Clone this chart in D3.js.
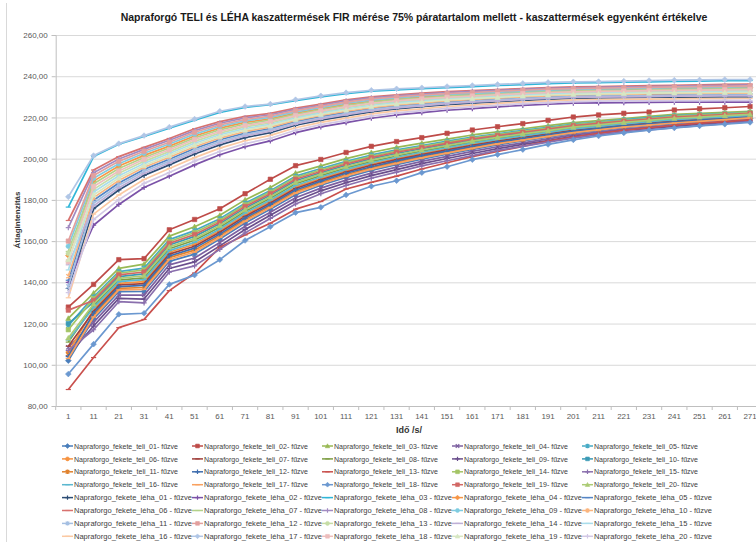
<!DOCTYPE html>
<html>
<head>
<meta charset="utf-8">
<script src="https://cdn.jsdelivr.net/npm/d3@7"></script>
<style>
  body { margin: 0; background: #fff; }
  svg { display: block; }
  text { font-family: "Liberation Sans", Arial, sans-serif; }
</style>
</head>
<body>
<div id="chart"></div>
<script>
// time points (x categories)
const times = [1, 11, 21, 31, 41, 51, 61, 71, 81, 91, 101, 111, 121, 131, 141, 151, 161, 171, 181, 191, 201, 211, 221, 231, 241, 251, 261, 271];
const yTicks = [80, 100, 120, 140, 160, 180, 200, 220, 240, 260];
const ids = ['01', '02', '03', '04', '05', '06', '07', '08', '09', '10', '11', '12', '13', '14', '15', '16', '17', '18', '19', '20'];

// teli series, 01..20
const teli = [
  [102, 122.3, 135.5, 135.6, 150.2, 153.7, 161.0, 168.8, 175.5, 182.5, 187.1, 190.9, 194.3, 197.1, 199.8, 202.2, 204.5, 206.7, 208.6, 210.4, 212.3, 213.6, 215.0, 216.0, 217.0, 217.8, 218.7, 219.5],
  [128, 139, 151, 151.5, 165.5, 170.5, 175.7, 183, 190, 196.6, 199.6, 203, 206, 208.3, 210.2, 212.3, 213.9, 215.5, 217, 218.6, 220.2, 221.2, 222, 222.6, 223.6, 224.2, 224.7, 225.3],
  [122.5, 134.8, 146.8, 148.8, 162.4, 167, 172.5, 180, 186, 193, 196.5, 200, 203, 205.5, 207.5, 209.5, 211.5, 213, 214.5, 216, 217.5, 218.5, 219.5, 220.5, 221.5, 222, 222.5, 223],
  [108.5, 120.6, 133.8, 133.8, 148.5, 151.8, 159.3, 167.2, 174.0, 181.0, 185.7, 189.6, 193.0, 195.9, 198.7, 201.1, 203.5, 205.8, 207.7, 209.6, 211.5, 212.9, 214.3, 215.3, 216.3, 217.2, 218.1, 219.0],
  [119, 133.0, 145.2, 146.9, 160.7, 165.1, 170.9, 178.4, 184.5, 191.5, 195.2, 198.7, 201.8, 204.3, 206.4, 208.5, 210.5, 212.1, 213.7, 215.2, 216.8, 217.8, 218.9, 219.9, 220.9, 221.4, 222.0, 222.5],
  [106, 126.8, 139.5, 140.3, 154.6, 158.5, 165.1, 172.8, 179.3, 186.3, 190.4, 194.2, 197.4, 200.1, 202.6, 204.8, 207.0, 209.0, 210.7, 212.4, 214.1, 215.4, 216.6, 217.6, 218.6, 219.3, 220.0, 220.8],
  [109, 125.9, 138.7, 139.4, 153.7, 157.5, 164.3, 172.0, 178.5, 185.5, 189.8, 193.5, 196.8, 199.5, 202.0, 204.3, 206.5, 208.5, 210.3, 212.0, 213.8, 215.0, 216.3, 217.3, 218.3, 219.0, 219.8, 220.5],
  [111, 128.6, 141.1, 142.2, 156.3, 160.4, 166.7, 174.4, 180.8, 187.8, 191.8, 195.5, 198.6, 201.3, 203.7, 205.8, 208.0, 209.9, 211.5, 213.2, 214.9, 216.1, 217.2, 218.2, 219.2, 219.9, 220.6, 221.3],
  [104.5, 118.8, 132.2, 131.9, 146.7, 149.9, 157.7, 165.6, 172.5, 179.5, 184.4, 188.3, 191.8, 194.7, 197.6, 200.1, 202.5, 204.9, 206.9, 208.8, 210.8, 212.2, 213.7, 214.7, 215.7, 216.6, 217.6, 218.5],
  [120, 130.4, 142.8, 144.1, 158.1, 162.3, 168.4, 176.0, 182.3, 189.3, 193.1, 196.8, 199.9, 202.5, 204.8, 206.9, 209.0, 210.8, 212.4, 214.0, 215.6, 216.8, 217.9, 218.9, 219.9, 220.5, 221.1, 221.8],
  [105, 124.1, 137.1, 137.5, 152.0, 155.6, 162.6, 170.4, 177.0, 184.0, 188.4, 192.2, 195.5, 198.3, 200.9, 203.2, 205.5, 207.6, 209.4, 211.2, 213.0, 214.3, 215.6, 216.6, 217.6, 218.4, 219.2, 220.0],
  [104, 125.0, 137.9, 138.5, 152.8, 156.6, 163.4, 171.2, 177.8, 184.8, 189.1, 192.9, 196.1, 198.9, 201.5, 203.7, 206.0, 208.1, 209.8, 211.6, 213.4, 214.7, 215.9, 216.9, 217.9, 218.7, 219.5, 220.3],
  [88, 103.5, 118, 122, 136, 144.5, 157, 163, 168.7, 175.5, 179.2, 185.3, 188.5, 191.5, 195, 198, 201, 203.5, 206, 208.5, 210.5, 212.3, 213.8, 215, 216.2, 217.2, 218, 218.8],
  [117, 132.1, 144.4, 146.0, 159.8, 164.2, 170.0, 177.6, 183.8, 190.8, 194.5, 198.1, 201.1, 203.7, 205.9, 207.9, 210.0, 211.7, 213.2, 214.8, 216.4, 217.5, 218.5, 219.5, 220.5, 221.1, 221.7, 222.3],
  [107, 117, 130.6, 130, 145, 148, 156, 164, 171, 178, 183, 187, 190.5, 193.5, 196.5, 199, 201.5, 204, 206, 208, 210, 211.5, 213, 214, 215, 216, 217, 218],
  [112, 127.7, 140.3, 141.3, 155.4, 159.4, 165.9, 173.6, 180.0, 187.0, 191.1, 194.8, 198.0, 200.7, 203.1, 205.3, 207.5, 209.4, 211.1, 212.8, 214.5, 215.7, 216.9, 217.9, 218.9, 219.6, 220.3, 221.0],
  [103, 123.2, 136.3, 136.6, 151.1, 154.7, 161.8, 169.6, 176.3, 183.3, 187.7, 191.6, 194.9, 197.7, 200.4, 202.7, 205.0, 207.2, 209.0, 210.8, 212.6, 214.0, 215.3, 216.3, 217.3, 218.1, 218.9, 219.8],
  [95.5, 110, 124.5, 125, 139, 143.5, 151, 160.3, 167, 173.8, 176.4, 182.4, 186.6, 189.3, 193.2, 196.1, 199.5, 202, 204.4, 206.9, 209.1, 211, 212.5, 213.8, 214.9, 215.9, 216.7, 217.6],
  [126.5, 131.2, 143.6, 145.0, 158.9, 163.2, 169.2, 176.8, 183.0, 190.0, 193.8, 197.4, 200.5, 203.1, 205.3, 207.4, 209.5, 211.2, 212.8, 214.4, 216.0, 217.1, 218.2, 219.2, 220.2, 220.8, 221.4, 222.0],
  [113, 129.5, 141.9, 143.2, 157.2, 161.3, 167.6, 175.2, 181.5, 188.5, 192.5, 196.1, 199.3, 201.9, 204.2, 206.4, 208.5, 210.3, 212.0, 213.6, 215.3, 216.4, 217.6, 218.6, 219.6, 220.2, 220.9, 221.5]
];

// léha series, 01..20
const leha = [
  [137, 175.7, 184.8, 191.9, 197.0, 202.3, 206.7, 210.2, 212.6, 216.2, 218.7, 220.8, 222.7, 224.1, 225.2, 226.2, 226.9, 227.6, 228.3, 228.8, 229.3, 229.5, 229.6, 229.7, 229.9, 229.9, 230.0, 230.0],
  [140, 167.7, 177.8, 186.0, 191.5, 197.0, 201.9, 205.8, 208.6, 212.6, 215.4, 217.5, 219.6, 221.2, 222.3, 223.5, 224.3, 225.1, 225.9, 226.4, 226.9, 227.1, 227.2, 227.3, 227.4, 227.4, 227.4, 227.4],
  [176.5, 201.0, 207.0, 210.8, 214.8, 218.7, 222.4, 224.9, 226.2, 228.2, 230.0, 231.5, 232.7, 233.4, 234.0, 234.5, 235.0, 235.5, 235.9, 236.4, 236.7, 236.9, 237.1, 237.3, 237.5, 237.6, 237.8, 237.9],
  [153, 189.1, 196.4, 201.6, 206.1, 211.0, 214.8, 217.6, 219.3, 222.1, 224.3, 226.3, 227.9, 229.0, 229.9, 230.7, 231.3, 231.8, 232.4, 232.9, 233.2, 233.4, 233.6, 233.8, 234.0, 234.1, 234.3, 234.4],
  [141, 179.8, 188.2, 194.8, 199.7, 204.9, 209.2, 212.4, 214.6, 218.0, 220.4, 222.5, 224.3, 225.6, 226.6, 227.6, 228.2, 228.9, 229.6, 230.1, 230.5, 230.7, 230.8, 231.0, 231.1, 231.2, 231.3, 231.4],
  [170, 194.5, 201, 205.5, 209.8, 214.5, 218, 220.5, 222, 224.5, 226.5, 228.5, 230, 231, 231.8, 232.5, 233, 233.5, 234, 234.5, 234.8, 235, 235.2, 235.4, 235.6, 235.8, 236, 236.2],
  [155, 187.8, 195.2, 200.6, 205.2, 210.1, 214.0, 216.8, 218.7, 221.5, 223.7, 225.8, 227.4, 228.6, 229.4, 230.3, 230.8, 231.4, 232.0, 232.5, 232.8, 233.0, 233.2, 233.4, 233.6, 233.7, 233.9, 234.0],
  [166.5, 193.2, 199.8, 204.5, 208.9, 213.6, 217.2, 219.8, 221.3, 223.9, 225.9, 228.0, 229.5, 230.5, 231.3, 232.1, 232.6, 233.1, 233.6, 234.1, 234.4, 234.6, 234.8, 235.0, 235.2, 235.4, 235.6, 235.8],
  [157.5, 190.5, 197.5, 202.6, 207.1, 211.9, 215.6, 218.3, 220.0, 222.7, 224.8, 226.9, 228.4, 229.5, 230.4, 231.2, 231.7, 232.2, 232.8, 233.3, 233.6, 233.8, 234.0, 234.2, 234.4, 234.5, 234.7, 234.9],
  [143, 181.1, 189.4, 195.8, 200.7, 205.8, 210.0, 213.2, 215.3, 218.6, 221.0, 223.0, 224.8, 226.1, 227.1, 228.0, 228.7, 229.3, 230.0, 230.5, 230.9, 231.1, 231.2, 231.4, 231.5, 231.6, 231.7, 231.8],
  [138, 178.4, 187.1, 193.8, 198.8, 204.0, 208.3, 211.7, 214.0, 217.4, 219.8, 221.9, 223.8, 225.1, 226.1, 227.1, 227.8, 228.5, 229.1, 229.6, 230.1, 230.3, 230.4, 230.5, 230.7, 230.8, 230.8, 230.9],
  [160, 191.8, 198.7, 203.6, 208.0, 212.8, 216.4, 219.0, 220.7, 223.3, 225.4, 227.4, 229.0, 230.0, 230.9, 231.6, 232.1, 232.7, 233.2, 233.7, 234.0, 234.2, 234.4, 234.6, 234.8, 235.0, 235.1, 235.3],
  [154, 185.1, 192.9, 198.7, 203.4, 208.4, 212.4, 215.4, 217.3, 220.3, 222.6, 224.7, 226.4, 227.6, 228.5, 229.4, 230.0, 230.6, 231.2, 231.7, 232.0, 232.2, 232.4, 232.6, 232.7, 232.9, 233.0, 233.1],
  [148.5, 177.1, 185.9, 192.8, 197.9, 203.1, 207.5, 211.0, 213.3, 216.8, 219.3, 221.4, 223.2, 224.6, 225.6, 226.7, 227.4, 228.0, 228.7, 229.2, 229.7, 229.9, 230.0, 230.1, 230.3, 230.3, 230.4, 230.5],
  [146, 183.8, 191.7, 197.7, 202.5, 207.5, 211.6, 214.6, 216.6, 219.7, 222.1, 224.1, 225.8, 227.1, 228.0, 228.9, 229.5, 230.1, 230.8, 231.3, 231.6, 231.8, 232.0, 232.2, 232.3, 232.4, 232.6, 232.7],
  [132.5, 173.1, 182.4, 189.9, 195.2, 200.5, 205.1, 208.7, 211.3, 215.0, 217.6, 219.7, 221.7, 223.2, 224.2, 225.3, 226.0, 226.8, 227.5, 228.0, 228.5, 228.7, 228.8, 228.9, 229.0, 229.1, 229.1, 229.2],
  [181.5, 201.5, 207.3, 211.2, 215.3, 219.2, 223.0, 225.3, 226.5, 228.6, 230.5, 232.0, 233.2, 233.9, 234.4, 235.0, 235.5, 236.0, 236.5, 237.0, 237.3, 237.4, 237.6, 237.9, 238.1, 238.2, 238.4, 238.4],
  [150, 186.5, 194.0, 199.7, 204.3, 209.3, 213.2, 216.1, 218.0, 220.9, 223.2, 225.2, 226.9, 228.1, 229.0, 229.8, 230.4, 231.0, 231.6, 232.1, 232.4, 232.6, 232.8, 233.0, 233.1, 233.3, 233.4, 233.6],
  [151, 182.4, 190.6, 196.7, 201.6, 206.6, 210.8, 213.9, 216.0, 219.1, 221.5, 223.6, 225.3, 226.6, 227.5, 228.5, 229.1, 229.7, 230.4, 230.9, 231.2, 231.4, 231.6, 231.8, 231.9, 232.0, 232.1, 232.2],
  [135, 170.4, 180.1, 188.0, 193.3, 198.8, 203.5, 207.3, 209.9, 213.8, 216.5, 218.6, 220.6, 222.2, 223.3, 224.4, 225.2, 225.9, 226.7, 227.2, 227.7, 227.9, 228.0, 228.1, 228.2, 228.2, 228.3, 228.3]
];

// styles
const teliColors = ['#4a7ebb', '#be4b48', '#98b954', '#7d60a0', '#46aac5', '#f69240', '#a0403c', '#7e9e44', '#6a4e8c', '#3a9ab5',
  '#e0822e', '#3e6dae', '#c9504d', '#a4c566', '#8a6fad', '#5cb8d0', '#f9a15f', '#6b98d0', '#d26865', '#abcb74'];
const lehaColors = ['#2c4d75', '#7b52a8', '#2fb6d8', '#f79646', '#5585c5', '#d8726f', '#b3d18a', '#a28bc1', '#7fcce0', '#fab57f',
  '#a5bfe2', '#e2a09e', '#c6dda6', '#beafd6', '#a9ddeb', '#fbc9a3', '#b0c6e6', '#edbebd', '#d7e7c3', '#d2c8e5'];
const teliMarkers = ['diamond', 'square', 'triangle', 'x', 'star', 'circle', 'dash', 'dash', 'plus', 'square',
  'star', 'plus', 'dash', 'square', 'plus', 'dash', 'dash', 'diamond', 'square', 'triangle'];
const lehaMarkers = ['plus', 'plus', 'dash', 'diamond', 'dash', 'dash', 'dash', 'plus', 'circle', 'star',
  'star', 'square', 'circle', 'dash', 'dash', 'dash', 'diamond', 'square', 'triangle', 'plus'];

const series = [
  ...teli.map((values, i) => ({
    name: `Napraforgo_fekete_teli_${ids[i]}- fűzve`, values, color: teliColors[i], marker: teliMarkers[i], wide: false,
  })),
  ...leha.map((values, i) => ({
    name: `Napraforgo_fekete_léha_${ids[i]} - fűzve`, values, color: lehaColors[i], marker: lehaMarkers[i], wide: true,
  })),
];

const width = 756;
const height = 542;

// x categories are bands, tick marks sit between them (Excel style)
const x = d3.scaleBand().domain(times).range([55.7, 762.7]).padding(0);
const y = d3.scaleLinear().domain([80, 260]).range([406, 35]);
const cx = t => x(t) + x.bandwidth() / 2;

const filled = { diamond: true, square: true, triangle: true, circle: true };

// returns a path for a marker centred on 0,0
function markerPath(type, s) {
  switch (type) {
    case 'diamond': return `M0,${-s * 1.1}L${s * 1.1},0L0,${s * 1.1}L${-s * 1.1},0Z`;
    case 'square': return `M${-s * 0.85},${-s * 0.85}h${s * 1.7}v${s * 1.7}h${-s * 1.7}Z`;
    case 'triangle': return `M0,${-s}L${s},${s * 0.8}L${-s},${s * 0.8}Z`;
    case 'circle': return `M${-s * 0.9},0a${s * 0.9},${s * 0.9} 0 1,0 ${s * 1.8},0a${s * 0.9},${s * 0.9} 0 1,0 ${-s * 1.8},0Z`;
    case 'x': return `M${-s * 0.8},${-s * 0.8}L${s * 0.8},${s * 0.8}M${-s * 0.8},${s * 0.8}L${s * 0.8},${-s * 0.8}`;
    case 'star': return `M${-s * 0.8},${-s * 0.8}L${s * 0.8},${s * 0.8}M${-s * 0.8},${s * 0.8}L${s * 0.8},${-s * 0.8}M0,${-s}V${s}`;
    case 'plus': return `M${-s},0H${s}M0,${-s}V${s}`;
    default: return `M${-s},0H${s}`;
  }
}

function drawMarker(sel, d, s) {
  sel.attr('d', markerPath(d.marker, s))
    .attr('fill', filled[d.marker] ? d.color : 'none')
    .attr('stroke', d.color)
    .attr('stroke-width', filled[d.marker] ? 0.6 : 1.2);
}

const svg = d3.select('#chart')
  .append('svg')
  .attr('width', width)
  .attr('height', height);

svg.append('rect').attr('width', width).attr('height', height).attr('fill', '#fff');

// chart frame (left edge visible)
svg.append('line')
  .attr('x1', 6.5).attr('x2', 6.5).attr('y1', 3).attr('y2', height)
  .attr('stroke', '#d9d9d9');

// gridlines
svg.append('g')
  .selectAll('line')
  .data(yTicks.slice(1))
  .enter()
  .append('line')
  .attr('x1', x.range()[0]).attr('x2', x.range()[1])
  .attr('y1', d => y(d) + 0.5).attr('y2', d => y(d) + 0.5)
  .attr('stroke', '#d9d9d9');

// y axis
const yAxis = svg.append('g')
  .attr('transform', `translate(${x.range()[0]},0)`)
  .call(d3.axisLeft(y).tickValues(yTicks).tickSize(4).tickPadding(4)
    .tickFormat(d => d3.format('.2f')(d).replace('.', ',')));
yAxis.select('.domain').attr('stroke', '#bfbfbf');
yAxis.selectAll('.tick line').attr('stroke', '#bfbfbf');
yAxis.selectAll('text').attr('fill', '#595959').style('font-size', '8px');

// x axis: labels centred, tick marks between categories
const xAxis = svg.append('g')
  .attr('transform', `translate(0,${y(80)})`)
  .call(d3.axisBottom(x).tickSize(0).tickPadding(7.5));
xAxis.select('.domain').attr('stroke', '#bfbfbf');
xAxis.selectAll('text').attr('fill', '#595959').style('font-size', '8px');
xAxis.selectAll('line.sep')
  .data([...times.map(t => x(t)), x.range()[1]])
  .enter()
  .append('line')
  .attr('class', 'sep')
  .attr('x1', d => d).attr('x2', d => d)
  .attr('y1', 0).attr('y2', 4)
  .attr('stroke', '#bfbfbf');

// lines and markers, series order
const line = d3.line()
  .x((d, i) => cx(times[i]))
  .y(d => y(d));

const seriesG = svg.append('g')
  .selectAll('g')
  .data(series)
  .enter()
  .append('g');

seriesG.append('path')
  .attr('d', d => line(d.values))
  .attr('fill', 'none')
  .attr('stroke', d => d.color)
  .attr('stroke-width', 1.7)
  .attr('stroke-linejoin', 'round');

seriesG.each(function (d) {
  d3.select(this)
    .selectAll('path.m')
    .data(d.values)
    .enter()
    .append('path')
    .attr('class', 'm')
    .attr('transform', (v, i) => `translate(${cx(times[i])},${y(v)})`)
    .call(sel => drawMarker(sel, d, 2.6));
});

// title
svg.append('text')
  .attr('x', 414).attr('y', 21)
  .attr('text-anchor', 'middle')
  .style('font-size', '10.5px')
  .style('font-weight', 'bold')
  .attr('fill', '#1a1a1a')
  .text('Napraforgó TELI és LÉHA kaszattermések FIR mérése 75% páratartalom mellett - kaszattermések egyenként értékelve');

// axis titles
svg.append('text')
  .attr('transform', 'translate(20,220) rotate(-90)')
  .attr('text-anchor', 'middle')
  .style('font-size', '8px')
  .style('font-weight', 'bold')
  .attr('fill', '#333')
  .text('Átlagintenzitás');

svg.append('text')
  .attr('x', 409).attr('y', 433)
  .attr('text-anchor', 'middle')
  .style('font-size', '9px')
  .style('font-weight', 'bold')
  .attr('fill', '#333')
  .text('Idő /s/');

// legend, 5 columns filled row by row
const legendCols = 5;
const legend = svg.append('g')
  .selectAll('g')
  .data(series)
  .enter()
  .append('g')
  .attr('transform', (d, i) => `translate(${62 + (i % legendCols) * 130},${446 + Math.floor(i / legendCols) * 12.9})`);

legend.append('line')
  .attr('x1', 0).attr('x2', 11)
  .attr('stroke', d => d.color)
  .attr('stroke-width', 1.5);

legend.append('path')
  .attr('transform', 'translate(5.5,0)')
  .each(function (d) { drawMarker(d3.select(this), d, 2.2); });

legend.append('text')
  .attr('x', 12).attr('y', 2.6)
  .style('font-size', '7.3px')
  .attr('fill', '#404040')
  .attr('textLength', d => (d.wide ? 118 : 104))
  .attr('lengthAdjust', 'spacingAndGlyphs')
  .text(d => d.name);
</script>
</body>
</html>
